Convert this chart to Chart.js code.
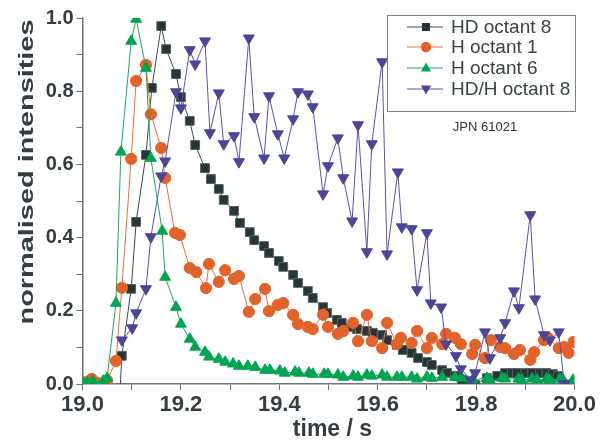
<!DOCTYPE html>
<html lang="en">
<head>
<meta charset="utf-8">
<script src="https://cdn.jsdelivr.net/npm/chart.js@4.4.1/dist/chart.umd.min.js"></script>
<style>
  body { margin: 0; background: #fff; }
  #wrap { width: 607px; height: 443px; }
</style>
</head>
<body>
<div id="wrap"><canvas id="myChart" width="607" height="443"></canvas></div>
<script>
// HD octant 8
var hdTime = [19.077, 19.080, 19.099, 19.109, 19.129, 19.141, 19.160, 19.170, 19.190, 19.200,
              19.218, 19.229, 19.249, 19.261, 19.277, 19.287, 19.308, 19.320, 19.340, 19.349,
              19.369, 19.379, 19.399, 19.408, 19.428, 19.438, 19.458, 19.468, 19.489, 19.497,
              19.517, 19.527, 19.548, 19.558, 19.578, 19.590, 19.609, 19.619, 19.639, 19.651,
              19.669, 19.682, 19.700, 19.710, 19.731, 19.741, 19.757, 19.771, 19.788, 19.798,
              19.822, 19.843, 19.859, 19.873, 19.883, 19.900, 19.914, 19.930, 19.943, 19.956,
              19.966];
var hdVal  = [0.000, 0.077, 0.260, 0.443, 0.626, 0.809, 0.978, 0.915, 0.847, 0.784,
              0.719, 0.653, 0.590, 0.560, 0.533, 0.503, 0.473, 0.440, 0.415, 0.393,
              0.377, 0.358, 0.336, 0.320, 0.298, 0.276, 0.254, 0.235, 0.210, 0.194,
              0.175, 0.167, 0.156, 0.150, 0.145, 0.140, 0.134, 0.120, 0.107, 0.093,
              0.085, 0.071, 0.060, 0.052, 0.038, 0.030, 0.022, 0.012, 0.003, -0.003,
              0.016, 0.022, 0.030, 0.030, 0.030, 0.030, 0.030, 0.030, 0.030, 0.027,
              0.022];

// H octant 1
var h1Time = [19.002, 19.019, 19.030, 19.050, 19.068, 19.080, 19.099, 19.109, 19.129, 19.139,
              19.160, 19.168, 19.188, 19.198, 19.218, 19.231, 19.251, 19.257, 19.277, 19.290,
              19.308, 19.318, 19.338, 19.351, 19.371, 19.379, 19.397, 19.408, 19.428, 19.438,
              19.458, 19.468, 19.489, 19.499, 19.519, 19.530, 19.550, 19.560, 19.578, 19.588,
              19.609, 19.619, 19.639, 19.647, 19.669, 19.680, 19.700, 19.710, 19.731, 19.739,
              19.757, 19.769, 19.792, 19.798, 19.818, 19.830, 19.849, 19.859, 19.877, 19.889,
              19.910, 19.918, 19.938, 19.946, 19.968, 19.979, 19.988, 19.998];
var h1Val  = [0.005, 0.014, 0.003, 0.010, 0.063, 0.263, 0.615, 0.828, 0.872, 0.737,
              0.645, 0.563, 0.413, 0.407, 0.317, 0.306, 0.262, 0.328, 0.279, 0.311,
              0.287, 0.295, 0.197, 0.232, 0.260, 0.199, 0.216, 0.221, 0.189, 0.164,
              0.156, 0.150, 0.189, 0.156, 0.137, 0.145, 0.167, 0.117, 0.189, 0.117,
              0.098, 0.167, 0.109, 0.126, 0.112, 0.145, 0.098, 0.126, 0.109, 0.137,
              0.126, 0.109, 0.082, 0.107, 0.071, 0.120, 0.101, 0.098, 0.082, 0.093,
              0.066, 0.087, 0.120, 0.126, 0.098, 0.101, 0.085, 0.115];

// H octant 6
var h6Time = [19.000, 19.009, 19.021, 19.042, 19.050, 19.068, 19.078, 19.099, 19.109, 19.129,
              19.139, 19.162, 19.168, 19.190, 19.200, 19.218, 19.229, 19.249, 19.257, 19.277,
              19.290, 19.306, 19.318, 19.336, 19.351, 19.371, 19.381, 19.401, 19.411, 19.432,
              19.440, 19.460, 19.468, 19.491, 19.499, 19.519, 19.530, 19.550, 19.560, 19.578,
              19.588, 19.609, 19.619, 19.639, 19.649, 19.669, 19.680, 19.700, 19.710, 19.731,
              19.757, 19.771, 19.793, 19.822, 19.828, 19.853, 19.859, 19.886, 19.893, 19.914,
              19.924, 19.943, 19.950, 19.970, 19.977, 19.997];
var h6Val  = [0.003, 0.005, 0.008, 0.008, 0.016, 0.221, 0.634, 0.937, 0.997, 0.863,
              0.617, 0.418, 0.292, 0.210, 0.164, 0.123, 0.101, 0.087, 0.074, 0.068,
              0.060, 0.055, 0.049, 0.049, 0.046, 0.038, 0.038, 0.036, 0.030, 0.033,
              0.030, 0.030, 0.027, 0.027, 0.027, 0.025, 0.019, 0.022, 0.019, 0.025,
              0.022, 0.025, 0.019, 0.019, 0.019, 0.019, 0.014, 0.019, 0.016, 0.019,
              0.019, 0.016, 0.011, 0.016, 0.011, 0.016, 0.014, 0.014, 0.011, 0.014,
              0.011, 0.014, 0.011, 0.014, 0.011, 0.011];

// HD/H octant 8
var ratioTime = [19.080, 19.101, 19.109, 19.129, 19.139, 19.160, 19.168, 19.190, 19.200, 19.218,
                 19.229, 19.249, 19.259, 19.277, 19.287, 19.308, 19.318, 19.338, 19.349, 19.369,
                 19.379, 19.397, 19.410, 19.428, 19.438, 19.458, 19.468, 19.489, 19.499, 19.519,
                 19.530, 19.548, 19.560, 19.578, 19.588, 19.609, 19.619, 19.641, 19.649, 19.669,
                 19.680, 19.700, 19.708, 19.729, 19.739, 19.759, 19.769, 19.790, 19.798, 19.818,
                 19.828, 19.849, 19.859, 19.877, 19.887, 19.910, 19.920, 19.938, 19.950, 19.968,
                 19.979];
var ratioVal  = [0.120, 0.153, 0.194, 0.260, 0.402, 0.568, 0.609, 0.798, 0.754, 0.913,
                 0.874, 0.937, 0.686, 0.795, 0.656, 0.678, 0.607, 0.945, 0.730, 0.617,
                 0.787, 0.683, 0.617, 0.724, 0.798, 0.792, 0.757, 0.519, 0.596, 0.672,
                 0.563, 0.445, 0.708, 0.361, 0.656, 0.880, 0.355, 0.579, 0.429, 0.424,
                 0.257, 0.413, 0.221, 0.210, 0.109, 0.077, 0.041, 0.011, 0.030, 0.142,
                 0.071, 0.126, 0.167, 0.254, 0.208, 0.462, 0.232, 0.134, 0.120, 0.142,
                 0.000];

var seriesNames = ["HD octant 8", "H octant 1", "H octant 6", "HD/H octant 8"];
var xTicks = { min: 19.0, max: 20.0, step: 0.1 };
var yTicks = { min: 0.0, max: 1.0, step: 0.1 };

var axisColor = "#6f7679";
var textColor = "#343e42";

function pares(ts, vs)
{
	var out = [];
	for (var i = 0; i < ts.length; i++) out.push({ x: ts[i], y: vs[i] });
	return out;
}

var estilos = [
	{ fill: "#263538", line: "#3e4a4d", border: "#56615f", style: "rect",     radius: 6.2, rot: 0 },
	{ fill: "#e3622a", line: "#e8703a", border: "#e3622a", style: "circle",   radius: 5.6, rot: 0 },
	{ fill: "#00a551", line: "#1aa95c", border: "#00a551", style: "triangle", radius: 6.3, rot: 0 },
	{ fill: "#4b4697", line: "#5a56a6", border: "#4b4697", style: "triangle", radius: 6.3, rot: 180 }
];

var dados = [pares(hdTime, hdVal), pares(h1Time, h1Val), pares(h6Time, h6Val), pares(ratioTime, ratioVal)];

var datasets = [];
for (var k = 0; k < 4; k++)
{
	var e = estilos[k];
	datasets.push({
		label: seriesNames[k],
		data: dados[k],
		borderColor: e.line,
		borderWidth: 1,
		backgroundColor: e.fill,
		pointBackgroundColor: e.fill,
		pointBorderColor: e.border,
		pointBorderWidth: 1,
		pointStyle: e.style,
		pointRotation: e.rot,
		pointRadius: (k === 0) ? function(c) { return c.dataIndex === 0 ? 0 : 6.2; } : e.radius,
		tension: 0,
		order: 4 - k
	});
}

// legend box, axis titles and note
var extras = {
	id: "extras",
	afterDraw: function(chart)
	{
		var ctx = chart.ctx;
		var area = chart.chartArea;
		ctx.save();

		// y title, stretched along the text
		ctx.fillStyle = textColor;
		ctx.font = "bold 21px Arial, 'Liberation Sans', sans-serif";
		ctx.textAlign = "center";
		ctx.textBaseline = "middle";
		var tw = ctx.measureText("normalised intensities").width;
		ctx.save();
		ctx.translate(27, 172);
		ctx.rotate(-Math.PI / 2);
		ctx.scale(305 / tw, 1);
		ctx.fillText("normalised intensities", 0, 0);
		ctx.restore();

		// x title
		ctx.font = "bold 23px Arial, 'Liberation Sans', sans-serif";
		ctx.fillText("time / s", (area.left + area.right) / 2 + 4, 430);

		// legend
		var bx = 387.5, by = 15.5, bw = 188, bh = 96;
		ctx.strokeStyle = "#7c8285";
		ctx.lineWidth = 1;
		ctx.strokeRect(bx, by, bw, bh);
		var rows = [27, 47, 68, 89];
		ctx.font = "19px Arial, 'Liberation Sans', sans-serif";
		ctx.textAlign = "left";
		for (var i = 0; i < 4; i++)
		{
			var e = estilos[i];
			var y = rows[i];
			ctx.strokeStyle = e.line;
			ctx.lineWidth = 1;
			ctx.beginPath();
			ctx.moveTo(407, y);
			ctx.lineTo(443, y);
			ctx.stroke();
			ctx.fillStyle = e.fill;
			ctx.beginPath();
			var cx = 426;
			if (e.style === "rect")
			{
				ctx.rect(cx - 4, y - 4, 8, 8);
			}
			else if (e.style === "circle")
			{
				ctx.arc(cx, y, 5.2, 0, Math.PI * 2);
			}
			else if (e.rot === 0)
			{
				ctx.moveTo(cx, y - 5.5);
				ctx.lineTo(cx + 5, y + 3.5);
				ctx.lineTo(cx - 5, y + 3.5);
				ctx.closePath();
			}
			else
			{
				ctx.moveTo(cx, y + 5.5);
				ctx.lineTo(cx + 5, y - 3.5);
				ctx.lineTo(cx - 5, y - 3.5);
				ctx.closePath();
			}
			ctx.fill();
			ctx.fillStyle = "#3a4447";
			ctx.fillText(seriesNames[i], 451, y + 1);
		}

		ctx.font = "13px Arial, 'Liberation Sans', sans-serif";
		ctx.textAlign = "center";
		ctx.fillStyle = "#333";
		ctx.fillText("JPN 61021", 485, 127);
		ctx.restore();
	}
};

function rotuloPar(v)
{
	var n = Math.round(v * 10);
	return (n % 2 === 0) ? (n / 10).toFixed(1) : "";
}

var ctx = document.getElementById("myChart").getContext("2d");
var myChart = new Chart(ctx, {
	type: "line",
	data: { datasets: datasets },
	options: {
		responsive: false,
		animation: false,
		layout: { padding: { top: 18, right: 32.5, left: 0, bottom: 0 } },
		plugins: { legend: { display: false }, tooltip: { enabled: false } },
		scales: {
			x: {
				type: "linear",
				min: xTicks.min,
				max: xTicks.max,
				afterFit: function(s) { s.height = 59; },
				border: { color: axisColor, width: 1.5 },
				grid: { drawOnChartArea: false, color: axisColor, tickLength: 6, tickWidth: 1 },
				ticks: {
					stepSize: xTicks.step,
					autoSkip: false,
					maxRotation: 0,
					padding: 2,
					color: textColor,
					font: { family: "Arial, 'Liberation Sans', sans-serif", size: 22, weight: "bold" },
					callback: function(v) { return rotuloPar(v); }
				}
			},
			y: {
				min: yTicks.min,
				max: yTicks.max,
				afterFit: function(s) { s.width = 82.5; },
				border: { color: axisColor, width: 1.5 },
				grid: { drawOnChartArea: false, color: axisColor, tickLength: 6, tickWidth: 1 },
				ticks: {
					stepSize: yTicks.step,
					autoSkip: false,
					padding: 3,
					color: textColor,
					font: { family: "Arial, 'Liberation Sans', sans-serif", size: 20, weight: "bold" },
					callback: function(v) { return rotuloPar(v); }
				}
			}
		}
	},
	plugins: [extras]
});
</script>
</body>
</html>
